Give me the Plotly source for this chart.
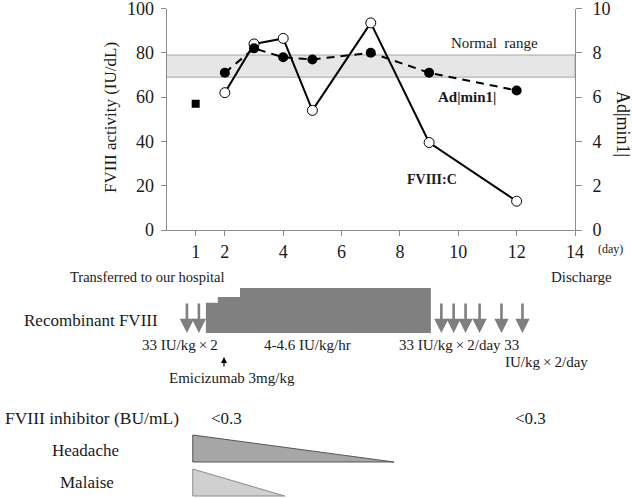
import plotly.graph_objects as go

W, H = 632, 498
FONT = "Liberation Serif"
INK = "#1a1a1a"
AXIS = "#8c8c8c"

# --- laboratory data (top panel) ---
days = [2, 3, 4, 5, 7, 9, 12]
fviii_c = [62, 84, 86.5, 54, 93.5, 39.5, 13]
ad_min1 = [7.1, 8.2, 7.8, 7.7, 8.0, 7.1, 6.3]
prev_day = [1]
prev_fviii = [57]
normal_range = [69, 79]
day_ticks = [1, 2, 4, 6, 8, 10, 12, 14]

# --- clinical course (bottom panel), in days ---
bolus_days = [0.7, 1.11, 9.42, 9.84, 10.25, 10.73, 11.48, 12.2]
infusion_days = [1.35, 1.76, 2.52, 9.06]   # start, step, step, stop
infusion_levels = [0.67, 0.8, 1.0]         # relative infusion rate
emicizumab_day = 1.97
headache_days = [0.9, 7.8]
malaise_days = [0.9, 4.05]


def px(x):
    return x / W


def py(y):
    return 1 - y / H


# pixel rows used for the schematic lanes
RF_BASE, RF_H = 333, 45
HEAD_TOP, HEAD_BASE = 435, 462
MAL_TOP, MAL_BASE = 469, 496

x_dom = [px(166.5), px(575)]

fig = go.Figure()

fig.add_trace(go.Scatter(
    x=days, y=fviii_c, mode="lines+markers",
    line=dict(color="black", width=2),
    marker=dict(symbol="circle", size=10, color="white",
                line=dict(color="black", width=1)),
    showlegend=False))

fig.add_trace(go.Scatter(
    x=days, y=ad_min1, yaxis="y2", mode="lines+markers",
    line=dict(color="black", width=2, dash="8px,6px"),
    marker=dict(symbol="circle", size=10, color="black"),
    showlegend=False))

fig.add_trace(go.Scatter(
    x=prev_day, y=prev_fviii, mode="markers",
    marker=dict(symbol="square", size=8, color="black"),
    showlegend=False))

# continuous infusion block
bx = [infusion_days[0]]
by = [RF_BASE]
for i, lvl in enumerate(infusion_levels):
    bx += [infusion_days[i], infusion_days[i + 1]]
    by += [RF_BASE - lvl * RF_H] * 2
bx += [infusion_days[-1]]
by += [RF_BASE]
fig.add_trace(go.Scatter(
    x=bx, y=by, xaxis="x2", yaxis="y3", mode="lines", fill="toself",
    fillcolor="#808080", line=dict(width=0), showlegend=False,
    hoverinfo="skip"))

# symptom triangles
for d, top, base, fc, lc in [
        (headache_days, HEAD_TOP, HEAD_BASE, "#a6a6a6", "#555555"),
        (malaise_days, MAL_TOP, MAL_BASE, "#d0d0d0", "#8c8c8c")]:
    fig.add_trace(go.Scatter(
        x=[d[0], d[0], d[1], d[0]], y=[top, base, base, top],
        xaxis="x2", yaxis="y3", mode="lines", fill="toself",
        fillcolor=fc, line=dict(color=lc, width=1), showlegend=False,
        hoverinfo="skip"))

annotations = []

# bolus arrows
for d in bolus_days:
    annotations.append(dict(
        x=d, y=RF_BASE, xref="x2", yref="y3", ax=0, ay=-31, text="",
        showarrow=True, arrowhead=2, arrowsize=1.1, arrowwidth=2.6,
        arrowcolor="#7f7f7f"))

# emicizumab arrow
annotations.append(dict(
    x=emicizumab_day, y=357, xref="x2", yref="y3", ax=0, ay=11, text="",
    showarrow=True, arrowhead=2, arrowsize=1, arrowwidth=1.2,
    arrowcolor="black"))


def label(text, x, y, size, anchor="left", bold=False, ref="paper"):
    if bold:
        text = "<b>" + text + "</b>"
    if ref == "paper":
        x, y, xr, yr = px(x), py(y), "paper", "paper"
    else:
        xr, yr = "x", "y"
    annotations.append(dict(
        text=text, x=x, y=y, xref=xr, yref=yr, xanchor=anchor,
        yanchor="middle", showarrow=False,
        font=dict(family=FONT, size=size, color=INK)))


# top panel labels
label("Normal\u00a0 range", 11.25, 84.5, 15, anchor="center", ref="data")
label("Ad|min1|", 10.3, 60, 15, anchor="center", bold=True, ref="data")
label("FVIII:C", 9.1, 23, 14, anchor="center", bold=True, ref="data")
label("(day)", 610, 249, 12, anchor="center")

annotations.append(dict(
    text="FVIII activity (IU/dL)", x=px(110), y=py(118), xref="paper",
    yref="paper", textangle=-90, showarrow=False, xanchor="center",
    yanchor="middle", font=dict(family=FONT, size=17, color=INK)))
annotations.append(dict(
    text="Ad|min1|", x=px(623), y=py(124), xref="paper",
    yref="paper", textangle=90, showarrow=False, xanchor="center",
    yanchor="middle", font=dict(family=FONT, size=18, color=INK)))

# bottom panel labels
label("Transferred to our hospital", 68, 277, 14.5)
label("Discharge", 549, 277, 15)
label("Recombinant FVIII", 22, 320, 17)
label("33 IU/kg\u2009\u00d7\u20092", 140, 345, 15)
label("4-4.6 IU/kg/hr", 262, 345, 15)
label("33 IU/kg\u2009\u00d7\u20092/day 33", 397, 345, 15)
label("IU/kg\u2009\u00d7\u20092/day", 503, 362, 15)
label("Emicizumab 3mg/kg", 167, 378, 15)
label("FVIII inhibitor (BU/mL)", 3, 418, 17.5)
label("&lt;0.3", 209, 418, 17)
label("&lt;0.3", 513, 418, 17)
label("Headache", 85, 450, 17, anchor="center")
label("Malaise", 87, 482, 17, anchor="center")

axis_style = dict(showline=True, linecolor=AXIS, linewidth=1,
                  ticks="outside", tickcolor=AXIS, showgrid=False,
                  zeroline=False, tickfont=dict(size=18),
                  ticklabeloverflow="allow", automargin=False)

fig.update_layout(
    width=W, height=H, autosize=False,
    margin=dict(l=0, r=0, t=0, b=0, pad=0, autoexpand=False),
    paper_bgcolor="white", plot_bgcolor="white",
    font=dict(family=FONT, size=18, color=INK),
    xaxis=dict(domain=x_dom, range=[0, 14], tickvals=day_ticks,
               ticklen=5, anchor="y", **axis_style),
    yaxis=dict(domain=[py(230), py(8.5)], range=[0, 100], dtick=20,
               ticklen=5, ticklabelstandoff=3, anchor="x", **axis_style),
    yaxis2=dict(overlaying="y", side="right", range=[0, 10], dtick=2,
                ticklen=6, ticklabelstandoff=7, anchor="x",
                **axis_style),
    xaxis2=dict(domain=x_dom, range=[0, 14], visible=False, anchor="y3"),
    yaxis3=dict(domain=[0, py(262)], range=[H, 262], visible=False,
                anchor="x2"),
    shapes=[dict(type="rect", xref="x", yref="y", x0=0, x1=14,
                 y0=normal_range[0], y1=normal_range[1],
                 fillcolor="#e6e6e6", line=dict(color="#a8a8a8", width=1),
                 layer="below")],
    annotations=annotations,
)

# page body has a default 8px margin; drop it so the figure fills the window
fig.write_html("out.html", config={"displayModeBar": False},
               post_script="document.body.style.margin='0';")
